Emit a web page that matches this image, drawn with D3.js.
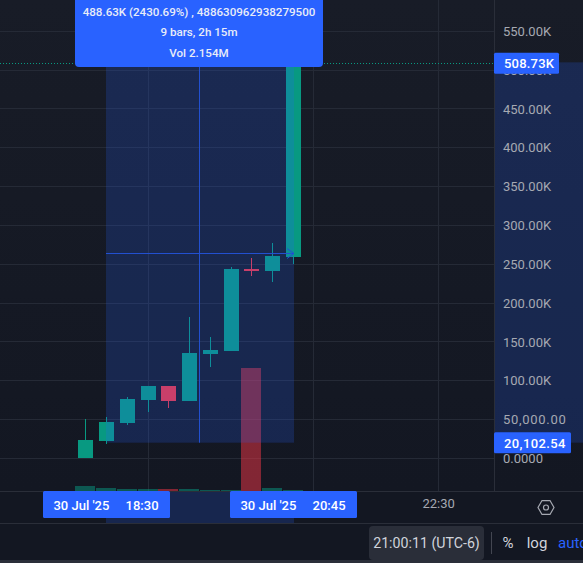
<!DOCTYPE html>
<html>
<head>
<meta charset="utf-8">
<script src="https://cdn.jsdelivr.net/npm/d3@7"></script>
<style>
html,body{margin:0;padding:0;background:#131722;overflow:hidden}
svg{display:block}
text{font-family:Roboto,sans-serif}
</style>
</head>
<body>
<div id="chart"></div>
<script>
// candles, prices in thousands
var times=['18:15','18:30','18:45','19:00','19:15','19:30','19:45','20:00','20:15','20:30','20:45'];
var opens=[0.4,22.3,45.5,75.4,93.4,74.1,134,137.9,243.8,241,259];
var highs=[50.6,53.5,79.3,93.4,93.4,182,156.3,246,258,277,520];
var lows=[0.4,18.4,42.9,59.6,64.8,74.1,117.6,137.9,235.1,227,250];
var closes=[23.6,46.8,76.7,93.4,74.1,135.4,139,243.8,241,260,508.73];
var volumes=[78,47,31,31,31,31,16,16,1919,47,16]; // thousands

var priceTicks=[0,50,100,150,200,250,300,350,400,450,500,550];
var priceLabels=['0.0000','50,000.00','100.00K','150.00K','200.00K','250.00K','300.00K','350.00K','400.00K','450.00K','500.00K','550.00K'];
var gridTimes=['19:00','21:00','22:30'];

var measureFrom={time:'18:30',price:20.10254,timeLabel:"30 Jul '25     18:30",priceLabel:'20,102.54'};
var measureTo={time:'20:45',price:508.73,timeLabel:"30 Jul '25     20:45",priceLabel:'508.73K'};
var tooltipLines=['488.63K (2430.69%) , 488630962938279500','9 bars, 2h 15m','Vol 2.154M'];

var width=583, height=563;
var axisX=494, axisY=491, footerY=523;
var blue='#2962ff', up='#089981', down='#f23645';

function parseT(s){
    var p=s.split(':');
    return new Date(Date.UTC(2025,6,31,+p[0],+p[1]));
}

var svg=d3.select('#chart').append('svg')
    .attr('width',width)
    .attr('height',height);

var defs=svg.append('defs');
var grad=defs.append('linearGradient').attr('id','bg').attr('x1',0).attr('x2',0).attr('y1',0).attr('y2',1);
grad.append('stop').attr('offset','0%').attr('stop-color','#181c27');
grad.append('stop').attr('offset','100%').attr('stop-color','#131722');
defs.append('clipPath').attr('id','plot').append('rect')
    .attr('width',axisX).attr('height',axisY);

svg.append('rect').attr('width',width).attr('height',height).attr('fill','#131722');
svg.append('rect').attr('width',width).attr('height',axisY).attr('fill','url(#bg)');

// scales
var x=d3.scaleUtc()
    .domain([parseT('18:30'),parseT('22:30')])
    .range([106.7,438.2]);
var y=d3.scaleLinear()
    .domain([0,550])
    .range([458.3,31.3]);
var yVol=d3.scaleLinear()
    .domain([0,1919])
    .range([axisY,368]);

function px(t){ return Math.floor(x(parseT(t))); }
function crisp(v){ return Math.floor(v)+0.5; }

var plot=svg.append('g').attr('clip-path','url(#plot)');

// grid
plot.selectAll('.hgrid').data(priceTicks).enter().append('line')
    .attr('x1',0).attr('x2',axisX)
    .attr('y1',d=>crisp(y(d))).attr('y2',d=>crisp(y(d)))
    .attr('stroke','#252a36').attr('stroke-width',1);
plot.selectAll('.vgrid').data(gridTimes).enter().append('line')
    .attr('x1',d=>px(d)+0.5).attr('x2',d=>px(d)+0.5)
    .attr('y1',0).attr('y2',axisY)
    .attr('stroke','#252a36').attr('stroke-width',1);

// volume
plot.selectAll('.vol').data(times).enter().append('rect')
    .attr('x',d=>px(d)-10)
    .attr('width',20)
    .attr('y',(d,i)=>Math.round(yVol(volumes[i])))
    .attr('height',(d,i)=>axisY-Math.round(yVol(volumes[i])))
    .attr('fill',(d,i)=>closes[i]>=opens[i]?up:down)
    .attr('fill-opacity',0.5);

// candles
function color(i){ return closes[i]>=opens[i]?up:down; }
plot.selectAll('.wick').data(times).enter().append('rect')
    .attr('x',d=>px(d))
    .attr('width',1)
    .attr('y',(d,i)=>Math.round(y(highs[i])))
    .attr('height',(d,i)=>Math.round(y(lows[i]))-Math.round(y(highs[i])))
    .attr('fill',(d,i)=>color(i));
plot.selectAll('.body').data(times).enter().append('rect')
    .attr('x',d=>px(d)-7)
    .attr('width',15)
    .attr('y',(d,i)=>Math.round(y(Math.max(opens[i],closes[i]))))
    .attr('height',(d,i)=>Math.round(y(Math.min(opens[i],closes[i])))-Math.round(y(Math.max(opens[i],closes[i]))))
    .attr('fill',(d,i)=>color(i));

// last price line
plot.append('line')
    .attr('x1',0).attr('x2',axisX)
    .attr('y1',crisp(y(measureTo.price))).attr('y2',crisp(y(measureTo.price)))
    .attr('stroke',up).attr('stroke-dasharray','1 2');

// measure range
var mx0=Math.floor(x(parseT(measureFrom.time))), mx1=Math.ceil(x(parseT(measureTo.time)));
var my0=y(measureFrom.price), my1=y(measureTo.price);
var mxMid=Math.floor((mx0+mx1-1)/2)+0.5, myMid=Math.floor((my0+my1)/2)+0.5;

svg.append('rect')
    .attr('x',mx0).attr('y',my1)
    .attr('width',mx1-mx0).attr('height',my0-my1)
    .attr('fill',blue).attr('fill-opacity',0.2);

var arrowColor='#2250d0';
svg.append('line').attr('x1',mx0).attr('x2',mx1).attr('y1',myMid).attr('y2',myMid)
    .attr('stroke',arrowColor);
svg.append('line').attr('x1',mxMid).attr('x2',mxMid).attr('y1',my1).attr('y2',my0)
    .attr('stroke',arrowColor);
svg.append('path')
    .attr('d',d3.line()([[mx1-7,myMid-5],[mx1,myMid],[mx1-7,myMid+5]]))
    .attr('fill','none').attr('stroke',arrowColor).attr('stroke-width',1);

// price axis
svg.append('rect')
    .attr('x',axisX).attr('y',my1-1)
    .attr('width',width-axisX).attr('height',my0-my1+1)
    .attr('fill',blue).attr('fill-opacity',0.2);

var yAxis=d3.axisRight(y)
    .tickValues(priceTicks)
    .tickSize(0)
    .tickPadding(9)
    .tickFormat((d,i)=>priceLabels[i]);
var yAxisG=svg.append('g')
    .attr('transform',`translate(${axisX},0)`)
    .call(yAxis);
yAxisG.select('.domain').remove();
yAxisG.selectAll('text')
    .attr('fill','#a6a9b2')
    .attr('font-size',13)
    .attr('letter-spacing',(d,i)=>priceLabels[i].indexOf(',')>=0?0.7:0);

// borders
svg.append('line').attr('x1',axisX+0.5).attr('x2',axisX+0.5).attr('y1',0).attr('y2',axisY)
    .attr('stroke','#2a2e39');
svg.append('line').attr('x1',0).attr('x2',width).attr('y1',axisY+0.5).attr('y2',axisY+0.5)
    .attr('stroke','#2a2e39');
svg.append('line').attr('x1',0).attr('x2',width).attr('y1',footerY+0.5).attr('y2',footerY+0.5)
    .attr('stroke','#2a2e39');

// time axis
svg.append('rect')
    .attr('x',mx0).attr('y',axisY+1)
    .attr('width',mx1-mx0).attr('height',footerY-axisY-1)
    .attr('fill',blue).attr('fill-opacity',0.2);

var xAxis=d3.axisBottom(x)
    .tickValues([parseT('22:30')])
    .tickSize(0)
    .tickPadding(8)
    .tickFormat(d3.utcFormat('%H:%M'));
var xAxisG=svg.append('g')
    .attr('transform',`translate(0,${axisY})`)
    .call(xAxis);
xAxisG.select('.domain').remove();
xAxisG.selectAll('text')
    .attr('fill','#a6a9b2')
    .attr('font-size',13);

// blue labels on the axes
[[43,measureFrom.timeLabel],[230,measureTo.timeLabel]].forEach(function(d){
    svg.append('rect').attr('x',d[0]).attr('y',axisY).attr('width',127).attr('height',27).attr('rx',1.5).attr('fill',blue);
    svg.append('text').attr('x',d[0]+63).attr('y',axisY+18.5)
        .attr('text-anchor','middle').attr('fill','#fff').attr('font-size',13)
        .attr('font-weight',500)
        .style('white-space','pre').text(d[1]);
});
[[measureTo,65,0.2],[measureFrom,77,0.4]].forEach(function(d){
    var cy=y(d[0].price);
    svg.append('rect').attr('x',axisX).attr('y',cy-10.5).attr('width',d[1]).attr('height',21).attr('rx',1.5).attr('fill',blue);
    svg.append('text').attr('x',axisX+10).attr('y',cy+5)
        .attr('fill','#fff').attr('font-size',13).attr('font-weight',500)
        .attr('letter-spacing',d[2]).text(d[0].priceLabel);
});

// tooltip
svg.append('path')
    .attr('d','M75,-5H323V63a4,4 0 0 1 -4,4H79a4,4 0 0 1 -4,-4Z')
    .attr('fill',blue);
svg.selectAll('.tip').data(tooltipLines).enter().append('text')
    .attr('x',199)
    .attr('y',(d,i)=>16+i*20.3)
    .attr('text-anchor','middle')
    .attr('fill','#e8ecf8')
    .attr('font-size',11.6)
    .attr('font-weight',500)
    .text(d=>d);

// settings icon
var hex=d3.range(6).map(function(i){
    var a=Math.PI/3*i;
    return [546+8*Math.cos(a),507.5+8*Math.sin(a)];
});
svg.append('path').attr('d',d3.line().curve(d3.curveLinearClosed)(hex))
    .attr('fill','none').attr('stroke','#a6a9b2').attr('stroke-width',1.2);
svg.append('circle').attr('cx',546).attr('cy',507.5).attr('r',2.5)
    .attr('fill','none').attr('stroke','#a6a9b2').attr('stroke-width',1.2);

// footer
svg.append('rect').attr('x',369).attr('y',526).attr('width',115).attr('height',34).attr('rx',4).attr('fill','#2a2e39');
svg.append('text').attr('x',426.5).attr('y',548).attr('text-anchor','middle').attr('fill','#d1d4dc').attr('font-size',14.2).text('21:00:11 (UTC-6)');
svg.append('line').attr('x1',491.5).attr('x2',491.5).attr('y1',532).attr('y2',554).attr('stroke','#434651');
svg.append('text').attr('x',508).attr('y',548).attr('text-anchor','middle').attr('fill','#d1d4dc').attr('font-size',15).text('%');
svg.append('text').attr('x',537).attr('y',548).attr('text-anchor','middle').attr('fill','#d1d4dc').attr('font-size',15).text('log');
svg.append('text').attr('x',558).attr('y',548).attr('fill',blue).attr('font-size',15).text('auto');
svg.append('rect').attr('x',0).attr('y',560).attr('width',width).attr('height',3).attr('fill','#2a2e39');
</script>
</body>
</html>
